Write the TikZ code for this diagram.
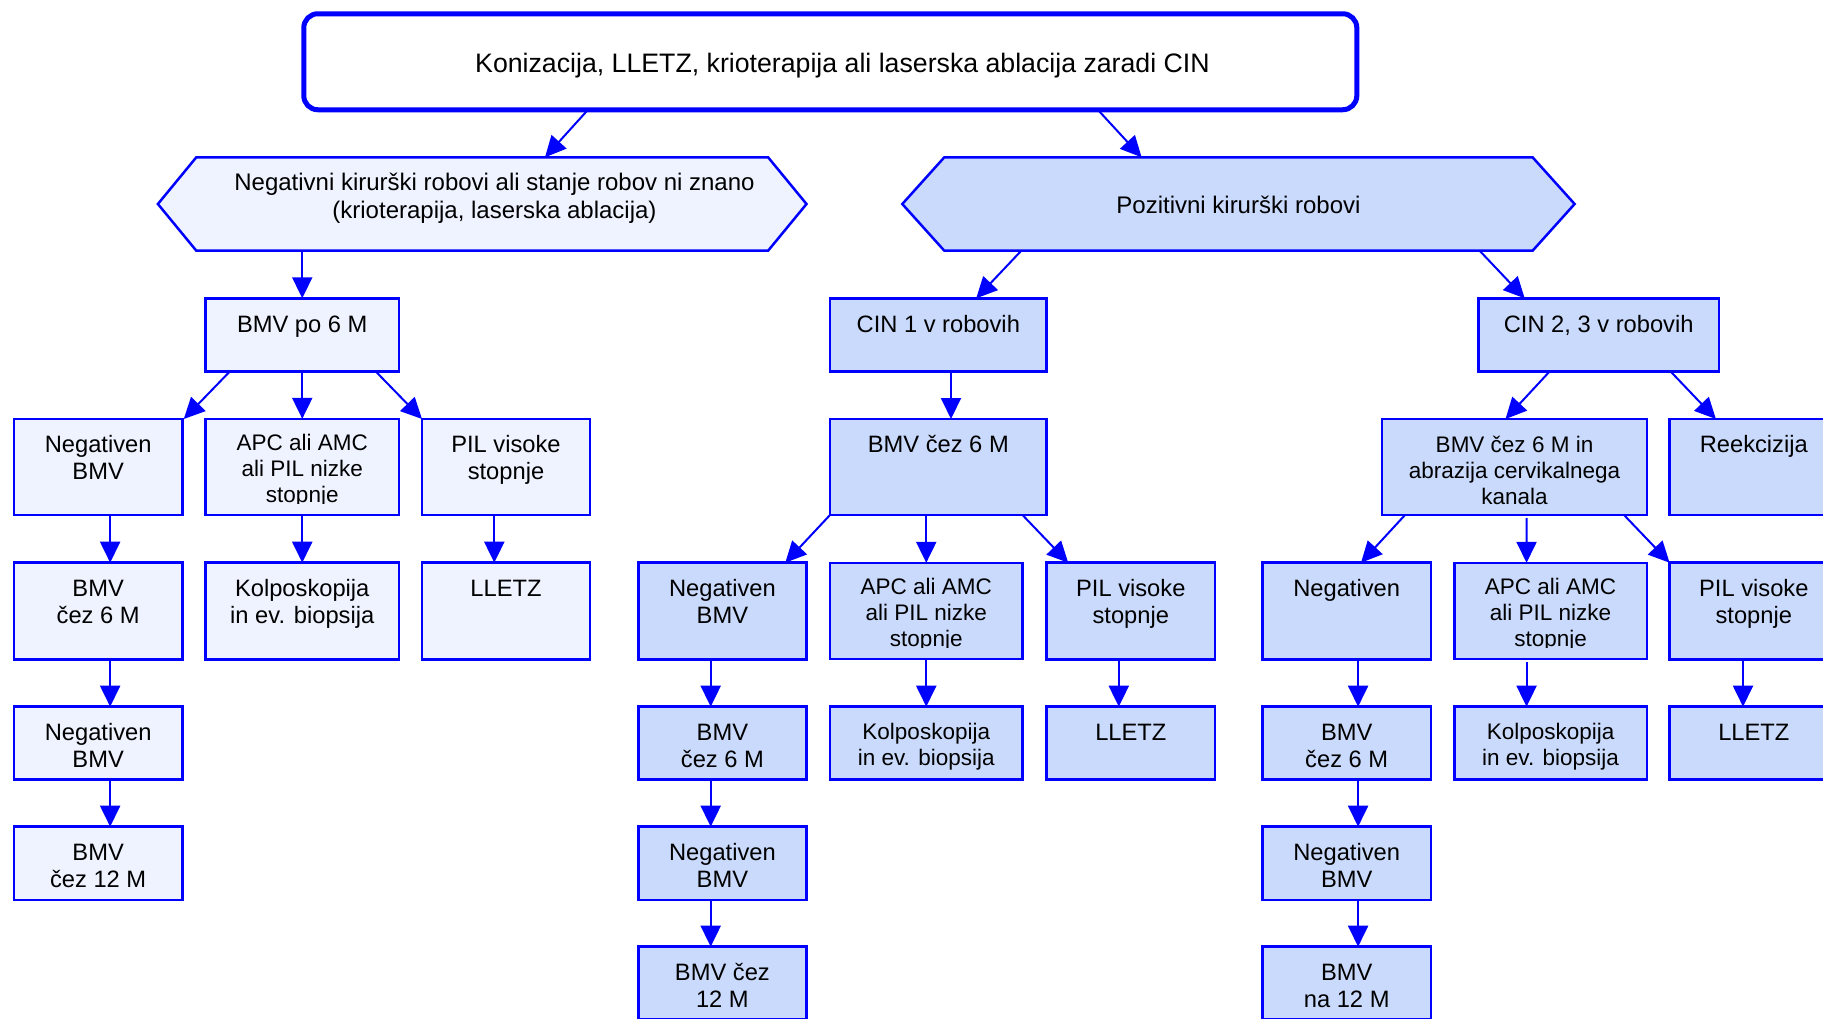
\documentclass[tikz,border=0pt]{standalone}
\usepackage{fontspec}
\setmainfont{Liberation Sans}
\usetikzlibrary{arrows.meta,calc}
\definecolor{bcol}{RGB}{0,0,255}
\definecolor{lfill}{RGB}{238,243,255}
\definecolor{rfill}{RGB}{201,218,252}
\newcommand\btxt[4]{\parbox[c][#2pt][t]{#1pt}{\centering\rule{0pt}{#3pt}#4\par}}
\newcommand\bxfont{\fontsize{23.7}{27}\selectfont}
\newcommand\bxfontS{\fontsize{22.5}{26}\selectfont}
\newcommand\kpfont{\fontsize{22.5}{25.5}\selectfont}
\newcommand\hxfont{\fontsize{24}{27.5}\selectfont}
\newcommand\apcnode[5]{%
  \node[#2] (#1) at (#3,#4) {\btxt{#5}{96.3}{32}{}};
  \begin{scope}
    \clip (#1.north west) rectangle ($(#1.south east)+(0,-11.5)$);
    \node[plain,font=\bxfontS] (#1t) at (#1.center) {\btxt{#5}{96.3}{32}{APC ali AMC\\ali PIL nizke\\stopnje}};
  \end{scope}}
\begin{document}
\begin{tikzpicture}[x=1pt,y=-1pt,
  plain/.style={inner sep=0pt, outer sep=0pt},
  bx/.style={plain, draw=bcol, line width=2.5pt, font=\bxfont},
  lbx/.style={bx, fill=lfill},
  rbx/.style={bx, fill=rfill},
  hexshape/.style={draw=bcol, line width=2.5pt},
  arr/.style={draw=bcol, line width=2pt, -{Triangle[length=21pt,width=20pt]}}]
\useasboundingbox (0,0) rectangle (1823,1018);
\clip (0,0) rectangle (1823,1018);

% top box
\node[plain, draw=bcol, line width=5pt, rounded corners=14pt, fill=white,
      minimum width=1053pt, minimum height=96pt] (top) at (830.3,61.75) {};
\node[plain, font=\fontsize{26.7}{30}\selectfont] (topt) at ($(top.center)+(12.2,0)$)
  {\btxt{1000}{96}{58.5}{Konizacija, LLETZ, krioterapija ali laserska ablacija zaradi CIN}};

% left hexagon
\node[plain, minimum width=648.6pt, minimum height=93.4pt] (hexL) at (482.2,204) {};
\draw[hexshape, fill=lfill] (hexL.west) -- ($(hexL.north west)+(38.4,0)$) -- ($(hexL.north east)+(-38.4,0)$)
  -- (hexL.east) -- ($(hexL.south east)+(-38.4,0)$) -- ($(hexL.south west)+(38.4,0)$) -- cycle;
\node[plain, font=\hxfont] (hexLt) at ($(hexL.center)+(12.3,0)$)
  {\btxt{620}{93.4}{33.2}{Negativni kirurški robovi ali stanje robov ni znano\\(krioterapija, laserska ablacija)}};

% right hexagon
\node[plain, minimum width=672.3pt, minimum height=93.4pt] (hexR) at (1238.45,204) {};
\draw[hexshape, fill=rfill] (hexR.west) -- ($(hexR.north west)+(42,0)$) -- ($(hexR.north east)+(-42,0)$)
  -- (hexR.east) -- ($(hexR.south east)+(-42,0)$) -- ($(hexR.south west)+(42,0)$) -- cycle;
\node[plain, font=\hxfont] (hexRt) at (hexR.center)
  {\btxt{600}{93.4}{56}{Pozitivni kirurški robovi}};

% row 2
\node[lbx] (bmvpo6) at (302.25,335) {\btxt{193.5}{73.4}{34}{BMV po 6 M}};
\node[rbx] (cin1) at (938.3,335) {\btxt{216.6}{73.4}{34}{CIN 1 v robovih}};
\node[rbx] (cin23) at (1598.65,335) {\btxt{240.5}{73.4}{34}{CIN 2, 3 v robovih}};

% row 3
\node[lbx] (negL) at (98.15,467) {\btxt{168.7}{96}{33.5}{Negativen\\BMV}};
\apcnode{apcL}{lbx}{302.25}{467}{193.5}
\node[lbx] (pilL) at (506,467) {\btxt{168}{96}{33.5}{PIL visoke\\stopnje}};
\node[rbx] (bmv6mid) at (938.3,467) {\btxt{216.6}{96}{33.5}{BMV čez 6 M}};
\node[rbx, font=\bxfontS] (abr) at (1514.5,467) {\btxt{264.6}{96}{33}{BMV čez 6 M in\\abrazija cervikalnega\\kanala}};
\node[rbx] (reek) at (1753.8,467) {\btxt{168.4}{96}{33.5}{Reekcizija}};

% row 4
\node[lbx] (bmv6L) at (98.15,611) {\btxt{168.7}{96.6}{33.5}{BMV\\čez 6 M}};
\node[lbx] (kolpL) at (302.25,611) {\btxt{193.5}{96.6}{33.5}{Kolposkopija\\in ev. biopsija}};
\node[lbx] (lletzL) at (506,611) {\btxt{168}{96.6}{33.5}{LLETZ}};
\node[rbx] (negM) at (722.4,611) {\btxt{168.2}{96.6}{33.5}{Negativen\\BMV}};
\apcnode{apcM}{rbx}{926.25}{611}{192.5}
\node[rbx] (pilM) at (1130.8,611) {\btxt{168.4}{96.6}{33.5}{PIL visoke\\stopnje}};
\node[rbx] (negR) at (1346.7,611) {\btxt{168.4}{96.6}{33.5}{Negativen}};
\apcnode{apcR}{rbx}{1550.55}{611}{192.5}
\node[rbx] (pilR) at (1753.8,611) {\btxt{168.4}{96.6}{33.5}{PIL visoke\\stopnje}};

% row 5
\node[lbx] (negL2) at (98.15,743) {\btxt{168.7}{72.6}{33.5}{Negativen\\BMV}};
\node[rbx] (bmv6M) at (722.4,743) {\btxt{168.2}{72.6}{33.5}{BMV\\čez 6 M}};
\node[rbx, font=\kpfont] (kolpM) at (926.25,743) {\btxt{192.5}{72.6}{33}{Kolposkopija\\in ev. biopsija}};
\node[rbx] (lletzM) at (1130.8,743) {\btxt{168.4}{72.6}{33.5}{LLETZ}};
\node[rbx] (bmv6R) at (1346.7,743) {\btxt{168.4}{72.6}{33.5}{BMV\\čez 6 M}};
\node[rbx, font=\kpfont] (kolpR) at (1550.55,743) {\btxt{192.5}{72.6}{33}{Kolposkopija\\in ev. biopsija}};
\node[rbx] (lletzR) at (1753.8,743) {\btxt{168.4}{72.6}{33.5}{LLETZ}};

% row 6
\node[lbx] (bmv12L) at (98.15,863.35) {\btxt{168.7}{73.3}{33.5}{BMV\\čez 12 M}};
\node[rbx] (negM2) at (722.4,863.35) {\btxt{168.2}{73.3}{33.5}{Negativen\\BMV}};
\node[rbx] (negR2) at (1346.7,863.35) {\btxt{168.4}{73.3}{33.5}{Negativen\\BMV}};

% row 7
\node[rbx] (bmv12M) at (722.4,983.2) {\btxt{168.2}{73}{33.5}{BMV čez\\12 M}};
\node[rbx] (bmv12R) at (1346.7,983.2) {\btxt{168.4}{73}{33.5}{BMV\\na 12 M}};

% connectors
\draw[arr] ($(top.south west)+(284.2,0)$) -- ($(hexL.north west)+(387.1,0)$);
\draw[arr] ($(top.south west)+(794,0)$) -- ($(hexR.north west)+(239.3,0)$);
\draw[arr] (bmvpo6.north |- hexL.south) -- (bmvpo6.north);
\draw[arr] ($(hexR.south west)+(119,0)$) -- ($(cin1.north west)+(146.2,0)$);
\draw[arr] ($(hexR.south west)+(577.3,0)$) -- ($(cin23.north west)+(46.3,0)$);

\draw[arr] ($(bmvpo6.south west)+(24.1,0)$) -- ($(negL.north west)+(170,0)$);
\draw[arr] (bmvpo6.south) -- (apcL.north);
\draw[arr] ($(bmvpo6.south west)+(170.5,0)$) -- (pilL.north west);
\draw[arr] ([xshift=12.7pt]cin1.south) -- ([xshift=12.7pt]bmv6mid.north);
\draw[arr] ($(cin23.south west)+(71,0)$) -- ($(abr.north west)+(123.3,0)$);
\draw[arr] ($(cin23.south west)+(192.4,0)$) -- ($(reek.north west)+(46.3,0)$);

\draw[arr] ([xshift=12pt]negL.south) -- ([xshift=12pt]bmv6L.north);
\draw[arr] ([xshift=12pt]bmv6L.south) -- ([xshift=12pt]negL2.north);
\draw[arr] ([xshift=12pt]negL2.south) -- ([xshift=12pt]bmv12L.north);
\draw[arr] (apcL.south) -- (kolpL.north);
\draw[arr] ([xshift=-11.7pt]pilL.south) -- ([xshift=-11.7pt]lletzL.north);

\draw[arr] (bmv6mid.south west) -- ($(negM.north west)+(147,0)$);
\draw[arr] (apcM.north |- bmv6mid.south) -- (apcM.north);
\draw[arr] ($(bmv6mid.south west)+(192.5,0)$) -- ($(pilM.north west)+(21.6,0)$);
\draw[arr] ([xshift=-11.7pt]negM.south) -- ([xshift=-11.7pt]bmv6M.north);
\draw[arr] ([xshift=-11.7pt]bmv6M.south) -- ([xshift=-11.7pt]negM2.north);
\draw[arr] ([xshift=-11.7pt]negM2.south) -- ([xshift=-11.7pt]bmv12M.north);
\draw[arr] (apcM.south) -- (kolpM.north);
\draw[arr] ([xshift=-12pt]pilM.south) -- ([xshift=-12pt]lletzM.north);

\draw[arr] ($(abr.south west)+(22.8,0)$) -- ($(negR.north west)+(98.5,0)$);
\draw[arr] ($(abr.south)+(12,3)$) -- ($(apcR.north)+(-24,0)$);
\draw[arr] ($(abr.south west)+(241.8,0)$) -- (pilR.north west);
\draw[arr] ([xshift=11.4pt]negR.south) -- ([xshift=11.4pt]bmv6R.north);
\draw[arr] ([xshift=11.4pt]bmv6R.south) -- ([xshift=11.4pt]negR2.north);
\draw[arr] ([xshift=11.4pt]negR2.south) -- ([xshift=11.4pt]bmv12R.north);
\draw[arr] ($(apcR.south)+(-24,3)$) -- ($(kolpR.north)+(-24,0)$);
\draw[arr] ([xshift=-10.8pt]pilR.south) -- ([xshift=-10.8pt]lletzR.north);
\end{tikzpicture}
\end{document}
